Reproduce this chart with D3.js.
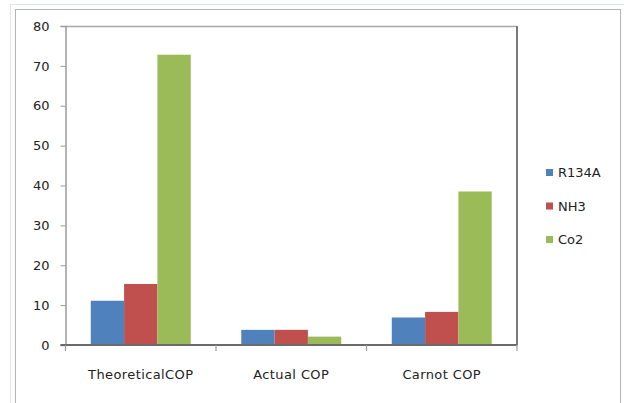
<!DOCTYPE html>
<html>
<head>
<meta charset="utf-8">
<script src="https://cdn.jsdelivr.net/npm/d3@7"></script>
<style>
  html, body { margin: 0; padding: 0; background: #ffffff; }
  svg { display: block; }
  text { font-family: "DejaVu Sans", sans-serif; fill: #222; }
</style>
</head>
<body>
<svg id="chart" width="624" height="403"></svg>
<script>
// COP comparison of three refrigerants
const categories = ["TheoreticalCOP", "Actual COP", "Carnot COP"];
const seriesNames = ["R134A", "NH3", "Co2"];
const r134a = [11.1, 3.8, 6.9];
const nh3 = [15.3, 3.8, 8.3];
const co2 = [72.8, 2.1, 38.5];
const yTicks = [0, 10, 20, 30, 40, 50, 60, 70, 80];
const colors = ["#4F81BD", "#C0504D", "#9BBB59"];

const values = [r134a, nh3, co2];
const svg = d3.select("#chart");

// Outer frame
svg.append("rect").attr("x", 10.5).attr("y", 4.5).attr("width", 620).attr("height", 420)
  .attr("fill", "none").attr("stroke", "#dde6ef").attr("stroke-width", 1);
svg.append("rect").attr("x", 15.5).attr("y", 9.5).attr("width", 605).attr("height", 420)
  .attr("fill", "#fff").attr("stroke", "#b4b4b4").attr("stroke-width", 1);

const plot = { left: 65.5, top: 26, right: 517, bottom: 345 };

const x = d3.scaleBand().domain(categories).range([plot.left, plot.right]).paddingInner(0).paddingOuter(0);
const inner = d3.scaleBand().domain(seriesNames).range([0, x.bandwidth()]).paddingOuter(0.5 * 50.5 / 33.3).paddingInner(0);
const y = d3.scaleLinear().domain([0, 80]).range([plot.bottom, plot.top]);

// Plot area frame (top and right)
svg.append("line").attr("x1", plot.left).attr("x2", plot.right).attr("y1", plot.top + 0.5).attr("y2", plot.top + 0.5)
  .attr("stroke", "#a8a8a8").attr("stroke-width", 1.5);
svg.append("line").attr("x1", plot.right).attr("x2", plot.right).attr("y1", plot.top).attr("y2", plot.bottom)
  .attr("stroke", "#7a7a7a").attr("stroke-width", 2);

// Bars
const groups = svg.append("g").selectAll("g").data(seriesNames).join("g")
  .attr("fill", (d, i) => colors[i]);
groups.selectAll("rect")
  .data((s, si) => categories.map((c, ci) => ({ s, c, v: values[si][ci] })))
  .join("rect")
  .attr("x", d => x(d.c) + inner(d.s))
  .attr("width", inner.bandwidth())
  .attr("y", d => y(d.v))
  .attr("height", d => y(0) - y(d.v));

// Y axis
const yAxis = d3.axisLeft(y).tickValues(yTicks).tickSize(5).tickPadding(11).tickFormat(d3.format("d"));
const yg = svg.append("g").attr("transform", `translate(${plot.left},0)`).call(yAxis);
yg.select(".domain").attr("stroke", "#9a9a9a").attr("stroke-width", 1.5);
yg.selectAll(".tick line").attr("stroke", "#9a9a9a");
yg.selectAll(".tick text").attr("font-size", 13).attr("font-family", "DejaVu Sans").attr("fill", "#222");

// X axis: ticks sit on category boundaries
const xg = svg.append("g").attr("transform", `translate(0,${plot.bottom})`);
xg.append("line").attr("x1", plot.left - 5).attr("x2", plot.right).attr("y1", 0).attr("y2", 0)
  .attr("stroke", "#6a6a6a").attr("stroke-width", 2);
const bounds = categories.map(c => x(c)).concat([x.range()[1]]);
xg.selectAll(".bt").data(bounds).join("line")
  .attr("x1", d => d).attr("x2", d => d).attr("y1", 0).attr("y2", 6)
  .attr("stroke", "#9a9a9a").attr("stroke-width", 1.2);
xg.selectAll(".lbl").data(categories).join("text")
  .attr("x", d => x(d) + x.bandwidth() / 2)
  .attr("y", 34)
  .attr("text-anchor", "middle")
  .attr("font-size", 13)
  .attr("letter-spacing", 0.4)
  .text(d => d);

// Legend
const legend = svg.append("g").selectAll("g").data(seriesNames).join("g")
  .attr("transform", (d, i) => `translate(546,${172.5 + i * 33.5})`);
legend.append("rect").attr("x", 0).attr("y", -3.5).attr("width", 7).attr("height", 7)
  .attr("fill", (d, i) => colors[i]);
legend.append("text").attr("x", 12).attr("y", 0).attr("dy", "0.36em")
  .attr("font-size", 13).text(d => d);
</script>
</body>
</html>
